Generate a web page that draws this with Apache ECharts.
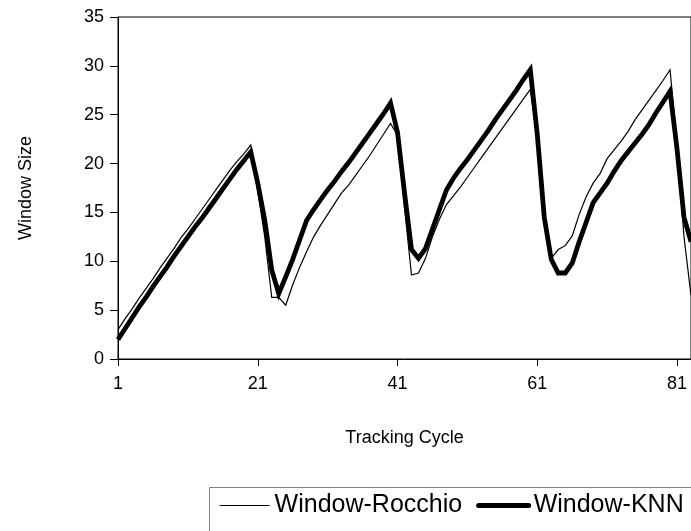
<!DOCTYPE html>
<html>
<head>
<meta charset="utf-8">
<script src="https://cdn.jsdelivr.net/npm/echarts@6/dist/echarts.min.js"></script>
<style>
  html, body { margin: 0; padding: 0; background: #fff; }
  #chart { width: 691px; height: 531px; }
</style>
</head>
<body>
<div id="chart"></div>
<script>
// Tracking cycles 1..83
const cycles = Array.from({ length: 83 }, (_, i) => String(i + 1));

// Window size per tracking cycle, Rocchio classifier
const rocchio = [
  3.0, 4.1, 5.1, 6.2, 7.2, 8.2, 9.3, 10.3, 11.3, 12.4,
  13.3, 14.3, 15.3, 16.3, 17.3, 18.3, 19.3, 20.2, 21.0, 21.9,
  17.2, 12.5, 6.3, 6.3, 5.5, 7.6, 9.4, 11.0, 12.5, 13.7,
  14.8, 15.9, 17.0, 17.8, 18.8, 19.8, 20.8, 21.9, 23.0, 24.1,
  22.9, 15.5, 8.6, 8.8, 10.3, 12.5, 14.3, 15.8, 16.7, 17.6,
  18.6, 19.6, 20.6, 21.6, 22.6, 23.6, 24.6, 25.6, 26.6, 27.6,
  22.5, 14.0, 10.3, 11.2, 11.6, 12.6, 14.8, 16.6, 18.0, 19.0,
  20.5, 21.4, 22.3, 23.3, 24.5, 25.5, 26.5, 27.5, 28.5, 29.6,
  22.0, 12.5, 6.5
];

// Window size per tracking cycle, KNN classifier
const knn = [
  2.0, 3.1, 4.2, 5.3, 6.3, 7.4, 8.4, 9.4, 10.5, 11.5,
  12.5, 13.5, 14.4, 15.4, 16.4, 17.4, 18.4, 19.4, 20.3, 21.2,
  18.0, 14.2, 9.1, 6.7, 8.4, 10.2, 12.2, 14.2, 15.3, 16.3,
  17.3, 18.2, 19.2, 20.1, 21.1, 22.1, 23.1, 24.1, 25.1, 26.2,
  23.2, 17.0, 11.2, 10.3, 11.3, 13.3, 15.3, 17.3, 18.5, 19.5,
  20.4, 21.4, 22.4, 23.4, 24.5, 25.5, 26.5, 27.5, 28.6, 29.6,
  23.0, 14.5, 10.2, 8.8, 8.8, 9.8, 12.0, 14.0, 16.0, 17.0,
  18.0, 19.2, 20.3, 21.2, 22.1, 23.0, 24.0, 25.2, 26.3, 27.4,
  21.5, 14.5, 12.0
];

const FONT = 'Liberation Sans';

const chart = echarts.init(document.getElementById('chart'), null, { renderer: 'canvas' });

chart.setOption({
  animation: false,
  backgroundColor: '#ffffff',
  grid: {
    left: 118, width: 575, top: 17, height: 342,
    show: true, borderColor: '#000', borderWidth: 1, backgroundColor: 'transparent'
  },
  xAxis: {
    type: 'category',
    data: cycles,
    boundaryGap: false,
    name: 'Tracking Cycle',
    nameLocation: 'middle',
    nameGap: 70,
    nameTextStyle: { fontFamily: FONT, fontSize: 18, color: '#000' },
    axisLine: { lineStyle: { color: '#000', width: 1 } },
    axisTick: { interval: 19, length: 7, lineStyle: { color: '#000' } },
    axisLabel: { interval: 19, margin: 16, fontFamily: FONT, fontSize: 18, color: '#000' },
    splitLine: { show: false }
  },
  yAxis: {
    type: 'value',
    min: 0, max: 35, interval: 5,
    name: 'Window Size',
    nameLocation: 'middle',
    nameGap: 83,
    nameTextStyle: { fontFamily: FONT, fontSize: 18, color: '#000' },
    axisLine: { show: true, lineStyle: { color: '#000', width: 1 } },
    axisTick: { show: true, length: 8, lineStyle: { color: '#000' } },
    axisLabel: { margin: 14, fontFamily: FONT, fontSize: 18, color: '#000' },
    splitLine: { show: false }
  },
  // Legend frame, open towards the lower right
  graphic: [{
    type: 'rect',
    shape: { x: 209.5, y: 487.5, width: 520, height: 80 },
    style: { fill: 'none', stroke: '#808080', lineWidth: 1 },
    silent: true
  }],
  legend: {
    left: 219, top: 493,
    width: 470,
    padding: 0,
    itemWidth: 50, itemHeight: 14, itemGap: 14,
    itemStyle: { opacity: 0 },
    textStyle: { fontFamily: FONT, fontSize: 25, color: '#000' },
    data: [
      { name: 'Window-Rocchio', lineStyle: { width: 1.2, color: '#000' } },
      { name: 'Window-KNN', lineStyle: { width: 5, color: '#000', cap: 'round' } }
    ]
  },
  series: [
    {
      name: 'Window-KNN',
      type: 'line',
      data: knn,
      symbol: 'none',
      z: 2,
      lineStyle: { color: '#000', width: 4.8, join: 'miter', miterLimit: 4 },
      itemStyle: { color: '#000' }
    },
    {
      name: 'Window-Rocchio',
      type: 'line',
      data: rocchio,
      symbol: 'none',
      z: 3,
      lineStyle: { color: '#000', width: 1.2, join: 'miter', miterLimit: 4 },
      itemStyle: { color: '#000' }
    }
  ]
});
</script>
</body>
</html>
